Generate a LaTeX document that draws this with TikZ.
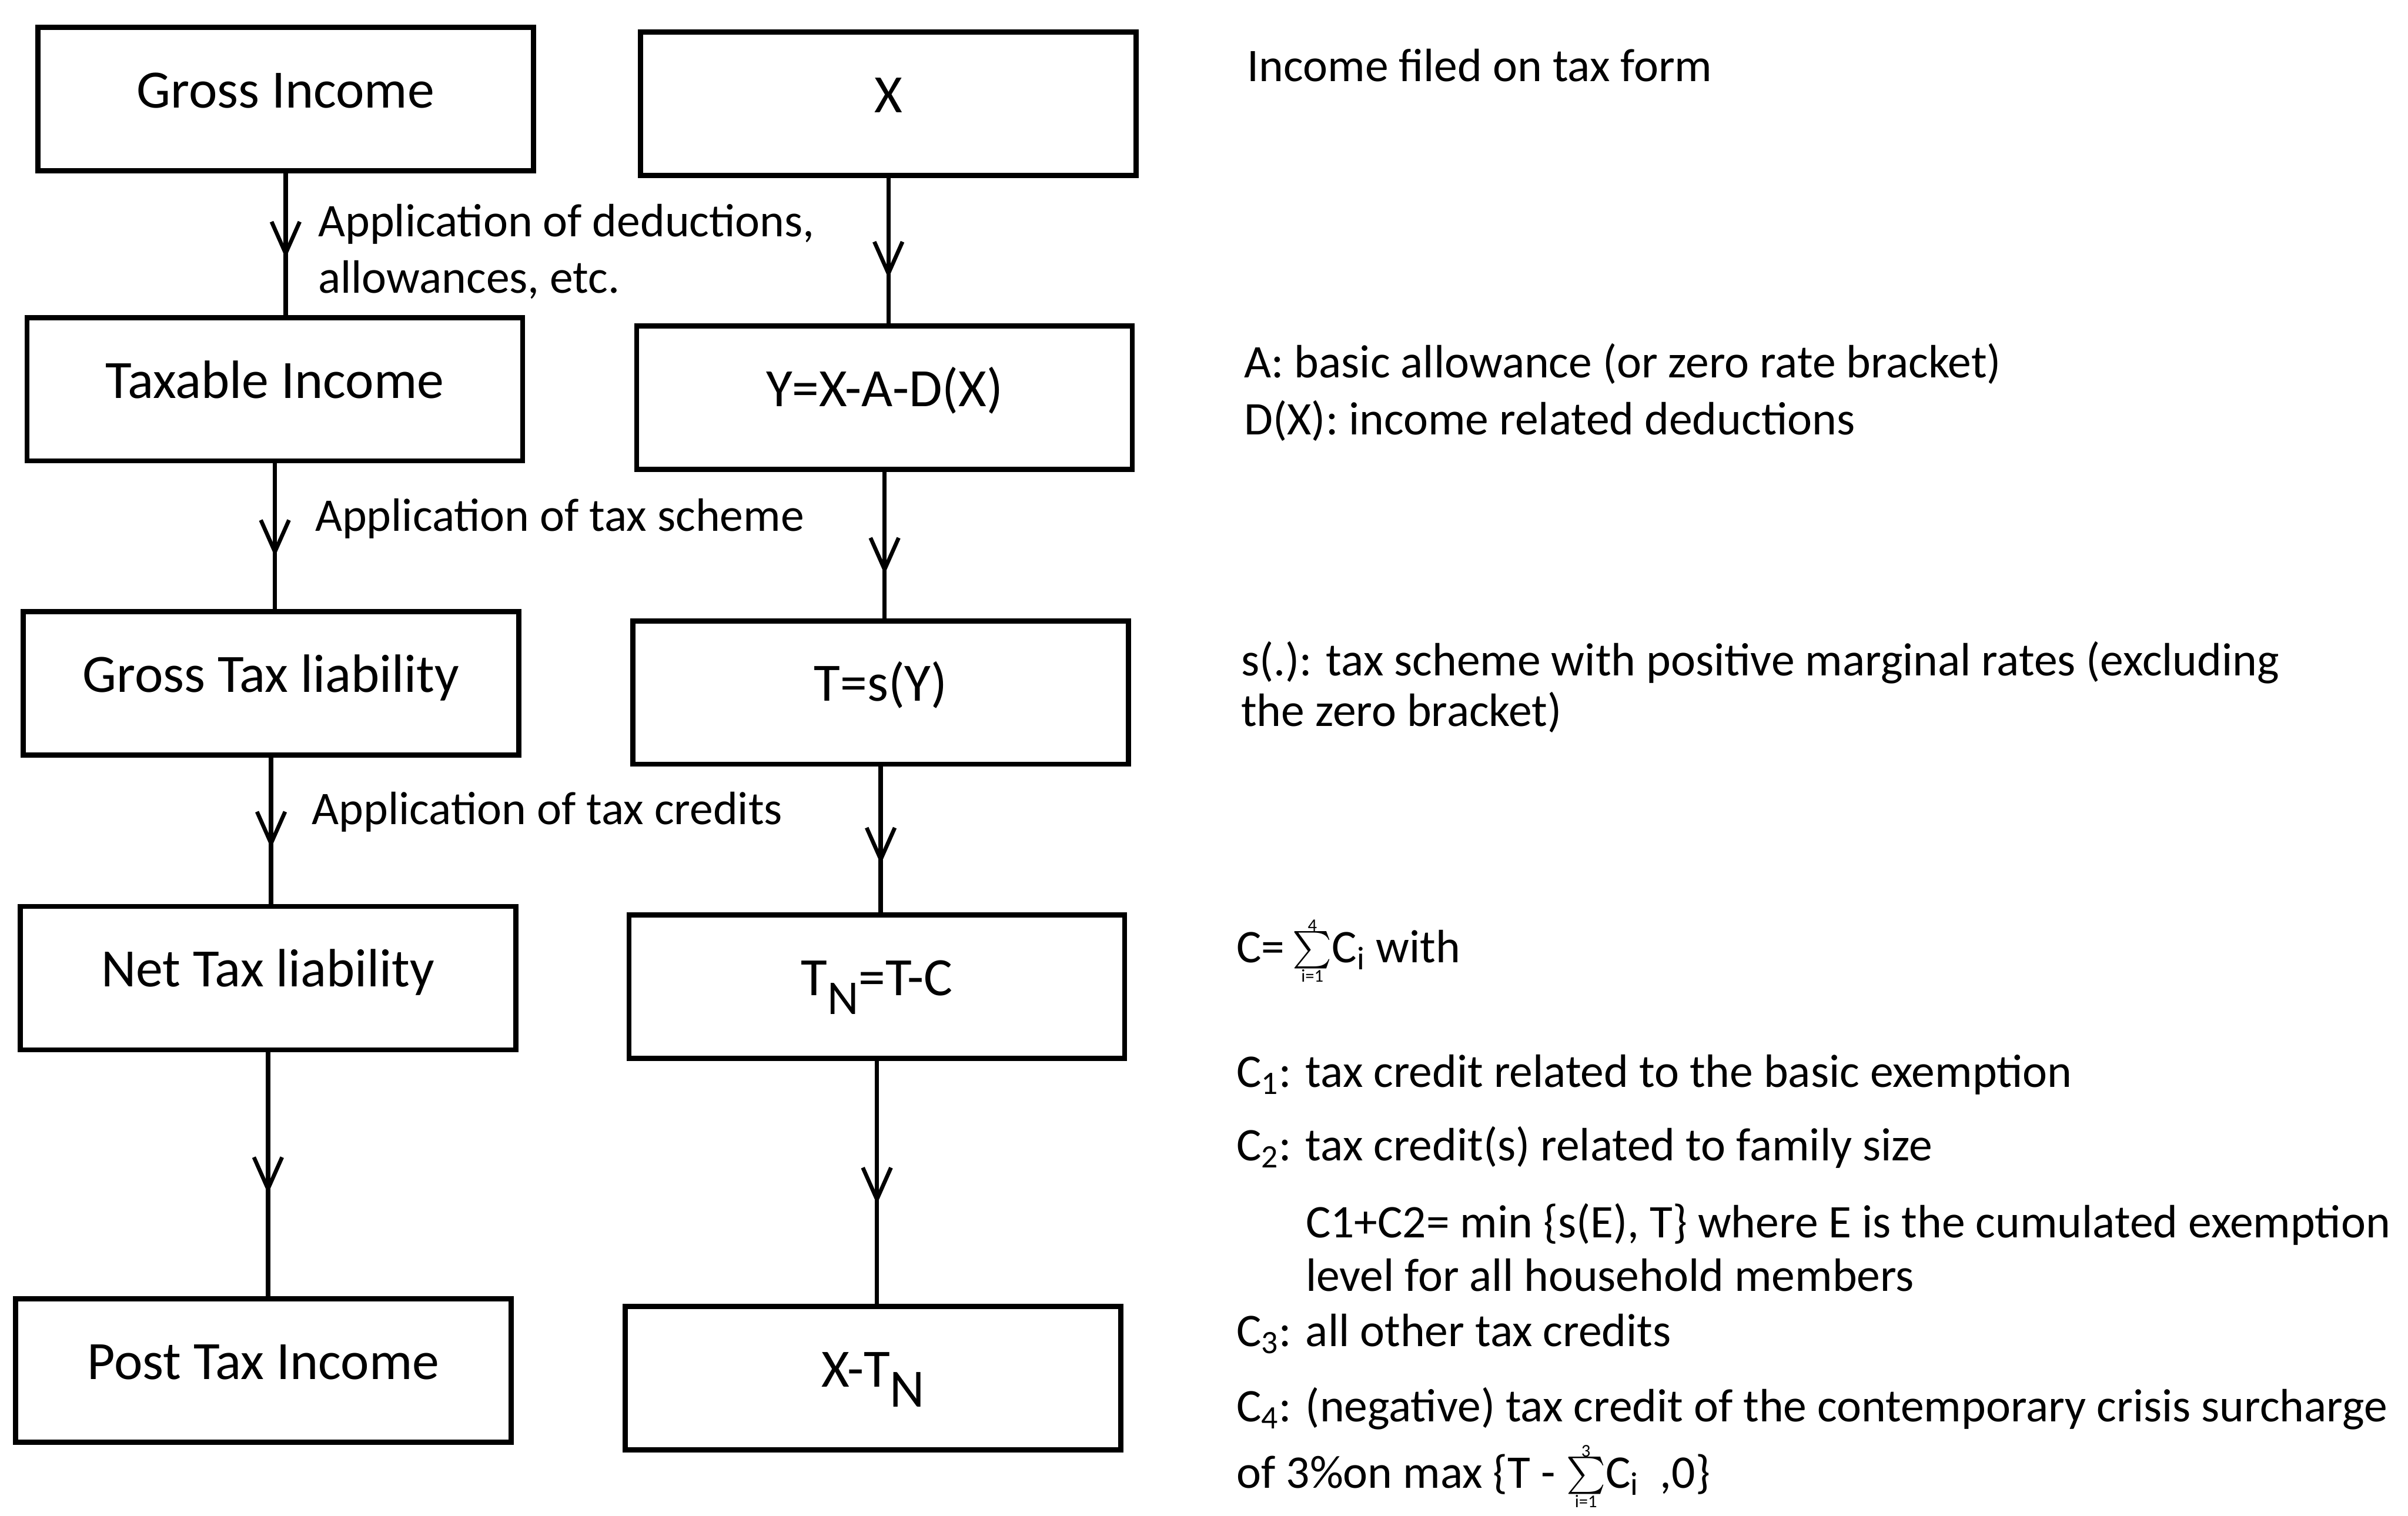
\RequirePackage{fix-cm}
\documentclass[tikz,border=0pt]{standalone}
\usepackage{amsmath}
\usepackage{fontspec}
\setmainfont{Carlito}
\usetikzlibrary{arrows.meta,decorations.markings}
\newcommand\myboxfont{\fontsize{30}{36}\selectfont}
\newcommand\mytxtfont{\fontsize{26}{31}\selectfont}
\newcommand\mysum[1]{$\vcenter{\offinterlineskip\halign{\hfil##\hfil\cr
  \fontsize{10}{10}\selectfont #1\cr
  \fontsize{22}{22}\selectfont$\sum$\cr\noalign{\kern0.5pt}
  \fontsize{10}{10}\selectfont i=1\cr}}$}
\begin{document}
\begin{tikzpicture}[x=0.03cm,y=-0.03cm,
  box/.style={draw, line width=2.8pt, minimum width=9.68cm, minimum height=2.8cm,
    inner sep=0pt, font=\myboxfont, text height=0.7cm, text depth=0.36cm, align=center},
  lbl/.style={anchor=base west, inner sep=0pt, font=\mytxtfont},
  flow/.style={line width=2.4pt, postaction={decorate},
    decoration={markings, mark=at position #1 with {\arrow{Straight Barb[length=0.62cm,width=0.55cm,line width=2.2pt]}}}}]
\useasboundingbox (0,0) rectangle (1568,987);
% left column
\node[box] (gross) at (186,64.5) {Gross Income};
\node[box] (taxable) at (179,253.5) {Taxable Income};
\node[box] (grosstax) at (176.5,445) {Gross Tax liability};
\node[box] (nettax) at (174.5,637) {Net Tax liability};
\node[box] (post) at (171.5,892.5) {Post Tax Income};
% right column
\node[box] (xin) at (578.5,67.5) {X};
\node[box] (yin) at (576,259) {Y=X-A-D(X)};
\node[box] (tin) at (573.5,451) {T=s(Y)};
\node[box] (tnin) at (571,642.5) {T\raisebox{-0.35em}{\fontsize{27}{27}\selectfont N}=T-C};
\node[box] (xtn) at (568.5,897.5) {X-T\raisebox{-0.37em}{N}};
% connectors
\draw[flow=0.6] (gross.south) -- (gross.south |- taxable.north);
\draw[flow=0.64] (taxable.south) -- (taxable.south |- grosstax.north);
\draw[flow=0.62] (grosstax.south) -- (grosstax.south |- nettax.north);
\draw[flow=0.58] (nettax.south) -- (nettax.south |- post.north);
\draw[flow=0.69] (xin.south) -- (xin.south |- yin.north);
\draw[flow=0.70] (yin.south) -- (yin.south |- tin.north);
\draw[flow=0.67] (tin.south) -- (tin.south |- tnin.north);
\draw[flow=0.59] (tnin.south) -- (tnin.south |- xtn.north);
% arrow labels
\node[lbl] (l1a) at (207,154) {Application of deductions,};
\node[lbl] (l1b) at (207,191) {allowances, etc.};
\node[lbl] (l2) at (205,346) {Application of tax scheme};
\node[lbl] (l3) at (203,537) {Application of tax credits};
% right-hand notes
\node[lbl] (n1) at (812,53) {Income filed on tax form};
\node[lbl] (n2a) at (810,246) {A: basic allowance (or zero rate bracket)};
\node[lbl] (n2b) at (810,283) {D(X): income related deductions};
\node[lbl] (n3a) at (808,440) {s(.): tax scheme with positive marginal rates (excluding};
\node[lbl] (n3b) at (808,473) {the zero bracket)};
\node[lbl] (n4) at (805,627) {C=\,\mysum{4}C\textsubscript{i} with};
\node[lbl] (n5) at (805,708) {C\textsubscript{1}: tax credit related to the basic exemption};
\node[lbl] (n6) at (805,756) {C\textsubscript{2}: tax credit(s) related to family size};
\node[lbl] (n7a) at (850,806) {C1+C2= min \{s(E), T\} where E is the cumulated exemption};
\node[lbl] (n7b) at (850,841) {level for all household members};
\node[lbl] (n8) at (805,877) {C\textsubscript{3}: all other tax credits};
\node[lbl] (n9a) at (805,926) {C\textsubscript{4}: (negative) tax credit of the contemporary crisis surcharge};
\node[lbl] (n9b) at (805,969) {of 3\%on max \{T - \mysum{3}C\textsubscript{i}\ \ ,0\}};
\end{tikzpicture}
\end{document}
